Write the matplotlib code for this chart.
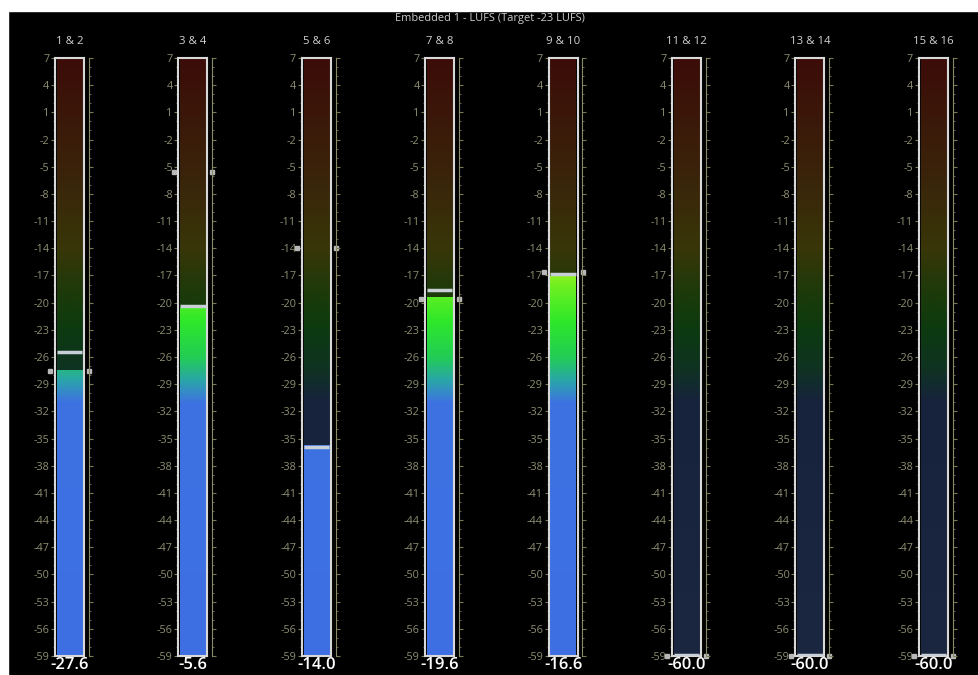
import numpy as np
import matplotlib
matplotlib.use("Agg")
import matplotlib.pyplot as plt
from matplotlib.colors import LinearSegmentedColormap, Normalize
from matplotlib.patches import Rectangle
from matplotlib.ticker import MultipleLocator, FixedLocator

plt.rcParams['font.family'] = ['Open Sans', 'DejaVu Sans']

title = "Embedded 1 - LUFS (Target -23 LUFS)"
channels = ['1 & 2', '3 & 4', '5 & 6', '7 & 8', '9 & 10', '11 & 12', '13 & 14', '15 & 16']
readout = [-27.6, -5.6, -14.0, -19.6, -16.6, -60.0, -60.0, -60.0]      # number under meter, side markers
momentary = [-27.5, -20.6, -35.8, -19.4, -17.1, -60.0, -60.0, -60.0]   # filled bar top
peak_hold = [-25.5, -20.4, -35.9, -18.6, -16.8, -60.0, -60.0, -60.0]   # white line
scale_ticks = list(range(7, -60, -3))

top_db, bot_db = 7, -59

# dim background gradient and bright fill gradient along dB scale
bg_stops = [(-59, '#1b2640'), (-31, '#17233d'), (-27, '#0f3320'), (-23, '#0c3a10'),
            (-19, '#1c3a0a'), (-14, '#383608'), (-5, '#3a220a'), (7, '#3c0c08')]
fill_stops = [(-59, '#3d6fe4'), (-31, '#3e72e2'), (-28.5, '#2aa6a8'), (-26, '#22cc55'),
              (-22, '#2ee82a'), (-18, '#70f020'), (-15, '#c8f020'), (-8, '#f0c020'), (7, '#f03020')]


def make_cmap(stops, name):
    pos = [(d - bot_db) / (top_db - bot_db) for d, _ in stops]
    return LinearSegmentedColormap.from_list(name, list(zip(pos, [c for _, c in stops])))


bg_cmap = make_cmap(bg_stops, 'bg')
fill_cmap = make_cmap(fill_stops, 'fill')
norm = Normalize(bot_db, top_db)

W, H = 979, 675
fig = plt.figure(figsize=(W / 100, H / 100), dpi=100, facecolor='black')

tick_col = '#7a7a55'
lab_col = '#8e8e72'

for i, ch in enumerate(channels):
    x0 = 55 + 123.4 * i
    ax = fig.add_axes([x0 / W, (H - 656) / H, 29 / W, (656 - 58) / H])
    ax.set_facecolor('black')
    ax.set_xlim(0, 1)
    ax.set_ylim(bot_db, top_db)

    grad = np.linspace(bot_db, top_db, 400).reshape(-1, 1)
    ax.imshow(grad, extent=[0.06, 0.94, bot_db, top_db], origin='lower', aspect='auto',
              cmap=bg_cmap, norm=norm, zorder=1)
    lvl = momentary[i]
    if lvl > bot_db:
        fgrad = np.linspace(bot_db, lvl, 400).reshape(-1, 1)
        ax.imshow(fgrad, extent=[0.06, 0.94, bot_db - 0.3, lvl], origin='lower', aspect='auto',
                  cmap=fill_cmap, norm=norm, zorder=2)
    pk = max(peak_hold[i], bot_db + 0.15)
    ax.hlines(pk, 0.06, 0.94, color='#c9cfd6', lw=2.5, zorder=3)

    # side markers at readout value
    mk = max(readout[i], bot_db)
    ax.plot([-0.16, 1.17], [mk, mk], ls='none', marker='s', ms=3.5, mfc='#b8b8b8',
            mec='#b8b8b8', clip_on=False, zorder=5)
    ax.set_xticks([])

    for s in ax.spines.values():
        s.set_color('#d8d8d8')
        s.set_linewidth(1.5)
    ax.yaxis.set_major_locator(FixedLocator(scale_ticks))
    ax.yaxis.set_minor_locator(MultipleLocator(1))
    ax.set_yticklabels([str(t) for t in scale_ticks])
    ax.tick_params(axis='y', which='major', length=3, width=0.8, color=tick_col,
                   labelcolor=lab_col, labelsize=7.8, pad=1)
    ax.tick_params(axis='y', which='minor', length=1.5, width=0.6, color=tick_col)

    ax2 = ax.twinx()
    ax2.set_ylim(bot_db, top_db)
    for s in ['top', 'bottom', 'left']:
        ax2.spines[s].set_visible(False)
    ax2.spines['right'].set_position(('outward', 3.5))
    ax2.spines['right'].set_color('#8a8a66')
    ax2.spines['right'].set_linewidth(0.8)
    ax2.yaxis.set_major_locator(FixedLocator(scale_ticks))
    ax2.yaxis.set_minor_locator(MultipleLocator(1))
    ax2.tick_params(axis='y', which='major', length=3, width=0.8, color=tick_col, labelright=False)
    ax2.tick_params(axis='y', which='minor', length=1.5, width=0.6, color=tick_col)

    ax.text(0.5, 1.0 + 11 / 598, ch, transform=ax.transAxes, ha='center', va='bottom',
            color='#d2d2d2', fontsize=8.2)
    ax.text(0.5, -0.002, f"{readout[i]:.1f}", transform=ax.transAxes, ha='center', va='top',
            color='white', fontsize=12, fontweight='semibold')

fig.text(490 / W, 1 - 19 / H, title, ha='center', va='center', color='#cccccc', fontsize=7.9)

# white margins of the screenshot
fig.patches.append(Rectangle((0, 1 - 11 / H), 1, 11 / H, transform=fig.transFigure,
                             color='white', zorder=10))
fig.patches.append(Rectangle((0, 0), 8 / W, 1, transform=fig.transFigure,
                             color='white', zorder=10))

fig.savefig('out.png', dpi=100, facecolor='black')
